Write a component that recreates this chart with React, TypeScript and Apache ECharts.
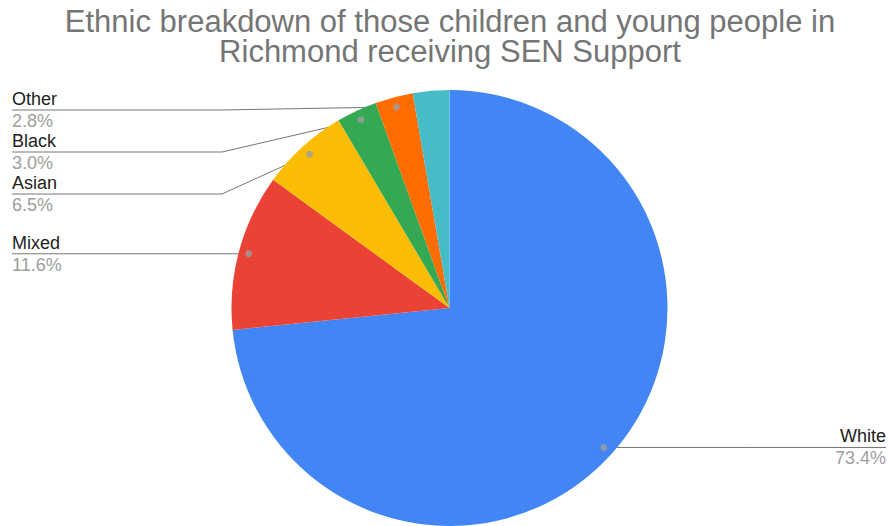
import React, { useEffect, useRef } from 'react';
import * as echarts from 'echarts';

const TITLE = 'Ethnic breakdown of those children and young people in\nRichmond receiving SEN Support';
const categories = ['White', 'Mixed', 'Asian', 'Black', 'Other', 'Not known'];
const percentages = [73.4, 11.6, 6.5, 3.0, 2.8, 2.7];
const sliceColors = ['#4285f4', '#ea4335', '#fbbc04', '#34a853', '#ff6d01', '#46bdc6'];
const labelled = [true, true, true, true, true, false];

const FONT = '"Liberation Sans", Arial, sans-serif';
const CX = 449.5;
const CY = 308;
const R = 218;
const DOT_FRAC = 0.954;
const LEFT_X = 12;
const RIGHT_X = 886;
const LEFT_ELBOW = 222;
const MIN_TOP = 110;
const GAP = 42;

const total = percentages.reduce((a, b) => a + b, 0);
const mids: number[] = [];
{
  let cum = 0;
  percentages.forEach((v) => {
    mids.push(cum + v / 2);
    cum += v;
  });
}

function pointAt(frac: number, r: number): number[] {
  const a = (frac / total) * Math.PI * 2;
  return [CX + r * Math.sin(a), CY - r * Math.cos(a)];
}

type Lay = { dot: number[]; lineY: number; side: 'left' | 'right' };
const layouts: (Lay | null)[] = percentages.map((_, i) => {
  if (!labelled[i]) return null;
  const dot = pointAt(mids[i], R * DOT_FRAC);
  return { dot, lineY: dot[1], side: dot[0] < CX ? 'left' : 'right' };
});
{
  const left = layouts
    .map((l, i) => ({ l, i }))
    .filter((o) => o.l && o.l.side === 'left')
    .sort((a, b) => a.l!.dot[1] - b.l!.dot[1]);
  let prev = -Infinity;
  left.forEach((o) => {
    const y = Math.max(o.l!.dot[1], prev + GAP, MIN_TOP);
    o.l!.lineY = y;
    prev = y;
  });
}

export default function App() {
  const ref = useRef<HTMLDivElement>(null);
  useEffect(() => {
    if (!ref.current) return;
    const chart = echarts.init(ref.current, undefined, { renderer: 'svg' });
    const pieData = categories.map((name, i) => ({
      name,
      value: percentages[i],
      itemStyle: { color: sliceColors[i] },
      label: { show: labelled[i] },
      labelLine: { show: labelled[i] },
    }));
    const dotData = mids
      .map((m, i) => (labelled[i] ? [DOT_FRAC, m] : null))
      .filter((d) => d !== null);
    chart.setOption({
      animation: false,
      backgroundColor: '#ffffff',
      title: {
        text: TITLE,
        left: 450,
        top: 6,
        padding: 0,
        textAlign: 'center',
        textStyle: {
          fontSize: 31,
          fontWeight: 'normal',
          color: '#757575',
          lineHeight: 30.5,
          fontFamily: FONT,
        },
      },
      polar: { center: [CX, CY], radius: R },
      angleAxis: {
        type: 'value',
        min: 0,
        max: total,
        startAngle: 90,
        clockwise: true,
        show: false,
      },
      radiusAxis: { type: 'value', min: 0, max: 1, show: false },
      series: [
        {
          type: 'pie',
          center: [CX, CY],
          radius: R,
          startAngle: 90,
          clockwise: true,
          silent: true,
          avoidLabelOverlap: false,
          data: pieData,
          itemStyle: { borderWidth: 0 },
          emphasis: { disabled: true },
          label: {
            position: 'outside',
            fontFamily: FONT,
            formatter: (p: any) => `{n|${p.name}}\n{p|${Number(p.value).toFixed(1)}%}`,
            rich: {
              n: { fontSize: 18, color: '#222222', lineHeight: 22, fontFamily: FONT },
              p: { fontSize: 18, color: '#9e9e9e', lineHeight: 22, fontFamily: FONT },
            },
          },
          labelLine: {
            length: 10,
            length2: 10,
            lineStyle: { color: '#777777', width: 1 },
          },
          labelLayout: (params: any) => {
            const L = layouts[params.dataIndex];
            if (!L) return {};
            const isLeft = L.side === 'left';
            const endX = isLeft ? LEFT_X : RIGHT_X;
            const elbowX = isLeft ? LEFT_ELBOW : (L.dot[0] + RIGHT_X) / 2;
            return {
              x: endX,
              y: L.lineY,
              align: isLeft ? 'left' : 'right',
              verticalAlign: 'middle',
              labelLinePoints: [
                [L.dot[0], L.dot[1]],
                [elbowX, L.lineY],
                [endX, L.lineY],
              ],
            };
          },
        },
        {
          type: 'scatter',
          coordinateSystem: 'polar',
          silent: true,
          symbol: 'circle',
          symbolSize: 7,
          itemStyle: { color: '#9e9e9e' },
          data: dotData,
          z: 5,
        },
      ],
    });
    return () => chart.dispose();
  }, []);
  return (
    <div
      ref={ref}
      style={{ position: 'fixed', left: 0, top: 0, width: 888, height: 526 }}
    />
  );
}
